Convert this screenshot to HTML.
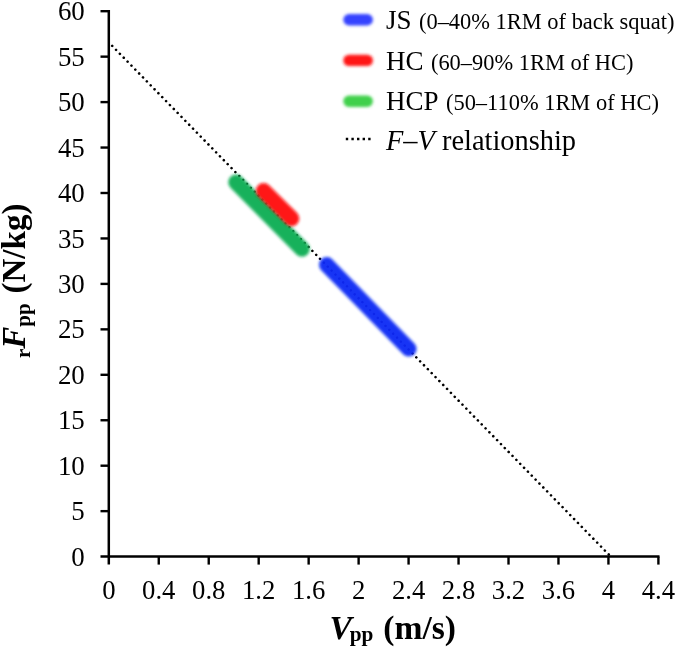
<!DOCTYPE html>
<html><head><meta charset="utf-8"><title>F-V relationship</title>
<style>
html,body{margin:0;padding:0;background:#fff;}
body{width:685px;height:654px;overflow:hidden;font-family:"Liberation Serif",serif;}
svg{display:block;font-family:"Liberation Serif",serif;}
</style></head><body>
<svg width="685" height="654" viewBox="0 0 685 654">
<defs>
<filter id="b1" filterUnits="userSpaceOnUse" x="0" y="0" width="685" height="654"><feGaussianBlur stdDeviation="1.4"/></filter>
<filter id="b0" filterUnits="userSpaceOnUse" x="0" y="0" width="685" height="654"><feGaussianBlur stdDeviation="0.45"/></filter>
</defs>
<rect width="685" height="654" fill="#fff"/>
<g filter="url(#b0)">
<line x1="112.2" y1="45.9" x2="610.6" y2="556.4" stroke="#000" stroke-width="2.6" stroke-dasharray="0.01 5.5" stroke-linecap="round"/>
<line x1="236.0" y1="182.2" x2="302.0" y2="249.0" stroke="#0eae54" stroke-width="15.5" stroke-linecap="round" filter="url(#b1)" opacity="0.96"/>
<line x1="263.6" y1="190.8" x2="291.6" y2="218.6" stroke="#ff0a0a" stroke-width="15.5" stroke-linecap="round" filter="url(#b1)" opacity="0.96"/>
<line x1="326.8" y1="264.8" x2="408.8" y2="348.8" stroke="#0a2cf5" stroke-width="15.5" stroke-linecap="round" filter="url(#b1)" opacity="0.96"/>
<line x1="108.8" y1="10.1" x2="108.8" y2="564.6" stroke="#000" stroke-width="2.5"/>
<line x1="100.5" y1="556.6" x2="659.5" y2="556.6" stroke="#000" stroke-width="2.5"/>
<text x="84.8" y="565.70" font-size="26.9" text-anchor="end">0</text>
<line x1="100.5" y1="511.15" x2="108.8" y2="511.15" stroke="#000" stroke-width="2.4"/>
<text x="84.8" y="520.25" font-size="26.9" text-anchor="end">5</text>
<line x1="100.5" y1="465.70" x2="108.8" y2="465.70" stroke="#000" stroke-width="2.4"/>
<text x="84.8" y="474.80" font-size="26.9" text-anchor="end">10</text>
<line x1="100.5" y1="420.25" x2="108.8" y2="420.25" stroke="#000" stroke-width="2.4"/>
<text x="84.8" y="429.35" font-size="26.9" text-anchor="end">15</text>
<line x1="100.5" y1="374.80" x2="108.8" y2="374.80" stroke="#000" stroke-width="2.4"/>
<text x="84.8" y="383.90" font-size="26.9" text-anchor="end">20</text>
<line x1="100.5" y1="329.35" x2="108.8" y2="329.35" stroke="#000" stroke-width="2.4"/>
<text x="84.8" y="338.45" font-size="26.9" text-anchor="end">25</text>
<line x1="100.5" y1="283.90" x2="108.8" y2="283.90" stroke="#000" stroke-width="2.4"/>
<text x="84.8" y="293.00" font-size="26.9" text-anchor="end">30</text>
<line x1="100.5" y1="238.45" x2="108.8" y2="238.45" stroke="#000" stroke-width="2.4"/>
<text x="84.8" y="247.55" font-size="26.9" text-anchor="end">35</text>
<line x1="100.5" y1="193.00" x2="108.8" y2="193.00" stroke="#000" stroke-width="2.4"/>
<text x="84.8" y="202.10" font-size="26.9" text-anchor="end">40</text>
<line x1="100.5" y1="147.55" x2="108.8" y2="147.55" stroke="#000" stroke-width="2.4"/>
<text x="84.8" y="156.65" font-size="26.9" text-anchor="end">45</text>
<line x1="100.5" y1="102.10" x2="108.8" y2="102.10" stroke="#000" stroke-width="2.4"/>
<text x="84.8" y="111.20" font-size="26.9" text-anchor="end">50</text>
<line x1="100.5" y1="56.65" x2="108.8" y2="56.65" stroke="#000" stroke-width="2.4"/>
<text x="84.8" y="65.75" font-size="26.9" text-anchor="end">55</text>
<line x1="100.5" y1="11.20" x2="108.8" y2="11.20" stroke="#000" stroke-width="2.4"/>
<text x="84.8" y="20.30" font-size="26.9" text-anchor="end">60</text>
<text x="108.80" y="598.9" font-size="26.7" text-anchor="middle">0</text>
<line x1="158.76" y1="556.6" x2="158.76" y2="564.6" stroke="#000" stroke-width="2.4"/>
<text x="158.76" y="598.9" font-size="26.7" text-anchor="middle">0.4</text>
<line x1="208.73" y1="556.6" x2="208.73" y2="564.6" stroke="#000" stroke-width="2.4"/>
<text x="208.73" y="598.9" font-size="26.7" text-anchor="middle">0.8</text>
<line x1="258.69" y1="556.6" x2="258.69" y2="564.6" stroke="#000" stroke-width="2.4"/>
<text x="258.69" y="598.9" font-size="26.7" text-anchor="middle">1.2</text>
<line x1="308.65" y1="556.6" x2="308.65" y2="564.6" stroke="#000" stroke-width="2.4"/>
<text x="308.65" y="598.9" font-size="26.7" text-anchor="middle">1.6</text>
<line x1="358.62" y1="556.6" x2="358.62" y2="564.6" stroke="#000" stroke-width="2.4"/>
<text x="358.62" y="598.9" font-size="26.7" text-anchor="middle">2</text>
<line x1="408.58" y1="556.6" x2="408.58" y2="564.6" stroke="#000" stroke-width="2.4"/>
<text x="408.58" y="598.9" font-size="26.7" text-anchor="middle">2.4</text>
<line x1="458.55" y1="556.6" x2="458.55" y2="564.6" stroke="#000" stroke-width="2.4"/>
<text x="458.55" y="598.9" font-size="26.7" text-anchor="middle">2.8</text>
<line x1="508.51" y1="556.6" x2="508.51" y2="564.6" stroke="#000" stroke-width="2.4"/>
<text x="508.51" y="598.9" font-size="26.7" text-anchor="middle">3.2</text>
<line x1="558.47" y1="556.6" x2="558.47" y2="564.6" stroke="#000" stroke-width="2.4"/>
<text x="558.47" y="598.9" font-size="26.7" text-anchor="middle">3.6</text>
<line x1="608.44" y1="556.6" x2="608.44" y2="564.6" stroke="#000" stroke-width="2.4"/>
<text x="608.44" y="598.9" font-size="26.7" text-anchor="middle">4</text>
<line x1="658.40" y1="556.6" x2="658.40" y2="564.6" stroke="#000" stroke-width="2.4"/>
<text x="658.40" y="598.9" font-size="26.7" text-anchor="middle">4.4</text>
<line x1="349" y1="19.7" x2="367.2" y2="19.7" stroke="#3443ff" stroke-width="11.4" stroke-linecap="round" filter="url(#b1)"/>
<text x="386" y="29" font-size="27">JS<tspan font-size="22.45" dx="1.8"> (0–40% 1RM of back squat)</tspan></text>
<line x1="349" y1="60.4" x2="367.2" y2="60.4" stroke="#ff1414" stroke-width="11.4" stroke-linecap="round" filter="url(#b1)"/>
<text x="386" y="70" font-size="27">HC<tspan font-size="22.45" dx="1.8"> (60–90% 1RM of HC)</tspan></text>
<line x1="349" y1="101.3" x2="367.2" y2="101.3" stroke="#3fd04c" stroke-width="11.4" stroke-linecap="round" filter="url(#b1)"/>
<text x="386" y="109.8" font-size="27">HCP<tspan font-size="22.45" dx="1.8"> (50–110% 1RM of HC)</tspan></text>
<line x1="345.8" y1="139" x2="370.7" y2="139" stroke="#000" stroke-width="2.6" stroke-dasharray="2.4 3.2"/>
<text x="386" y="150.3" font-size="28.4"><tspan font-style="italic">F–V</tspan> relationship</text>
<text x="329.5" y="638.5" font-size="33.6" font-weight="bold"><tspan font-style="italic">V</tspan><tspan font-size="21.3" dy="2.6" dx="-2.2">pp</tspan><tspan dy="-2.6" dx="1.5"> (m/s)</tspan></text>
<text transform="translate(25,358) rotate(-90)" font-size="33" font-weight="bold"><tspan font-size="21" dy="4.5">r</tspan><tspan dy="-4.5" font-style="italic">F</tspan><tspan font-size="21" dy="4.5">pp</tspan><tspan dy="-4.5" dx="1.6"> (N/kg)</tspan></text>
</g></svg></body></html>
